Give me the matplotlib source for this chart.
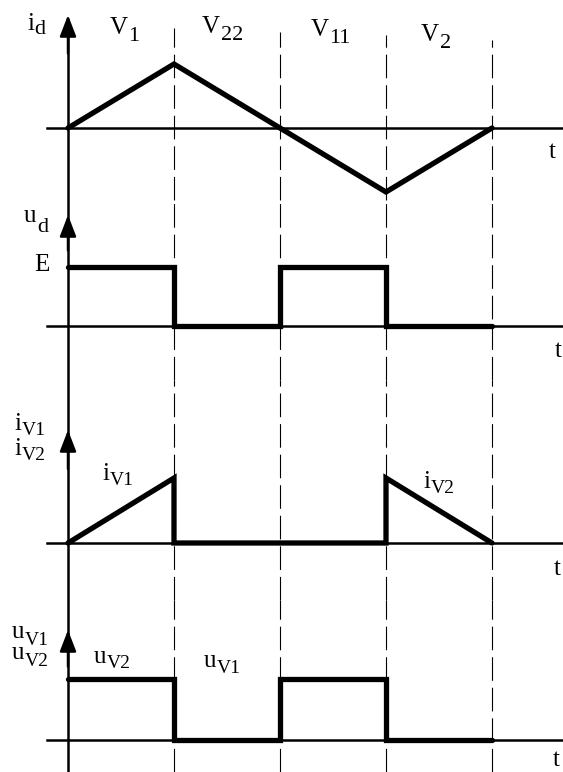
import matplotlib
matplotlib.use('Agg')
import matplotlib.pyplot as plt
from matplotlib.lines import Line2D

plt.rcParams['font.family'] = 'Liberation Serif'
plt.rcParams['lines.scale_dashes'] = False

# switching intervals (t in units of one interval)
t_edges = [0, 1, 2, 3, 4]
interval_names = [('V', '1'), ('V', '22'), ('V', '11'), ('V', '2')]

# i_d : triangular current
id_t = [0, 1, 2, 3, 4]
id_val = [0, 1, 0, -1, 0]

# u_d : E during V1 and V11, zero otherwise
ud_val = [1, 0, 1, 0]

# i_V1 / i_V2
iv_t = [0, 1, 1, 3, 3, 4]
iv_val = [0, 1, 0, 0, 1, 0]

# u_V1 / u_V2
uv_val = [1, 0, 1, 0]

W, H = 563, 772
fig = plt.figure(figsize=(W / 100, H / 100), dpi=100)
renderer = fig.canvas.get_renderer()

X0, XU = 68, 106          # pixel of t=0, pixels per interval
xlim = (-X0 / XU, (W - X0) / XU)
FS = 18
THICK = 3.8
AX_LW = 1.8
dash_tops = [28, 32, 35, 40]

# one continuous vertical axis through all four plots
fig.add_artist(Line2D([X0 / W, X0 / W], [0, 1 - 20 / H], color='k', lw=AX_LW))

def panel(top, bottom, zero, unit, tip, first=False):
    ax = fig.add_axes([0, 1 - bottom / H, 1, (bottom - top) / H])
    ax.set_xlim(*xlim)
    y0, y1 = -(bottom - zero) / unit, (zero - top) / unit
    ax.set_ylim(y0, y1)
    ax.axis('off')
    ytip = (zero - tip) / unit
    # time axis with arrow
    ax.plot([-21 / XU, xlim[1]], [0, 0], color='k', lw=AX_LW, clip_on=False)
    ax.annotate('', xy=(xlim[1] + 0.02, 0), xytext=(xlim[1] - 0.4, 0),
                arrowprops=dict(arrowstyle='-|>,head_length=0.6,head_width=0.2',
                                mutation_scale=20, lw=AX_LW, color='k',
                                shrinkA=0, shrinkB=0))
    ax.annotate('', xy=(0, ytip), xytext=(0, ytip - 0.6),
                arrowprops=dict(arrowstyle='-|>,head_length=0.65,head_width=0.25',
                                mutation_scale=20, lw=AX_LW, color='k',
                                shrinkA=0, shrinkB=0))
    # dashed interval boundaries
    for te, dt in zip(t_edges[1:], dash_tops):
        top_val = (zero - dt) / unit if first else y1
        ax.plot([te, te], [y0, top_val], color='k', lw=0.8,
                linestyle=(0, (17, 5)), clip_on=False)
    return ax

line_kw = dict(color='k', lw=THICK, solid_capstyle='round',
               solid_joinstyle='miter', clip_on=False, zorder=3)

ax1 = panel(0, 200, 128, 64, 15, first=True)
ax1.plot(id_t, id_val, **line_kw)

ax2 = panel(200, 380, 326, 59, 215)
ax2.step(t_edges, ud_val + ud_val[-1:], where='post', **line_kw)

ax3 = panel(380, 600, 543, 65, 430)
ax3.plot(iv_t, iv_val, **line_kw)

ax4 = panel(600, H, 740, 61, 630)
ax4.step(t_edges, uv_val + uv_val[-1:], where='post', **line_kw)

def label(x, y, main, sub=None, drop=6, sub_fs=16):
    # x: left edge, y: baseline (pixels from the top-left corner)
    txt = fig.text(x / W, 1 - y / H, main, ha='left', va='baseline', fontsize=FS)
    if sub:
        w = txt.get_window_extent(renderer).width
        fig.text((x + w + 0.5) / W, 1 - (y + drop) / H, sub,
                 ha='left', va='baseline', fontsize=sub_fs)

label(27, 30, 'i', 'd', drop=4)
for (m, s), xl, yb in zip(interval_names, [110, 202, 311, 421], [34, 33, 36, 41]):
    label(xl, yb, m, s, drop=7)
for xl, yb in [(549, 158), (555, 357), (554, 575), (553, 766)]:
    label(xl, yb, 't')

label(24, 222, 'u', 'd', drop=10)
label(34, 271, 'E')

label(14, 430, 'i', 'V1', drop=5, sub_fs=14)
label(14, 455, 'i', 'V2', drop=5, sub_fs=14)
label(102, 480, 'i', 'V1', drop=5, sub_fs=14)
label(423, 488, 'i', 'V2', drop=5, sub_fs=14)

label(12, 638, 'u', 'V1', drop=7, sub_fs=14)
label(12, 659, 'u', 'V2', drop=7, sub_fs=14)
label(94, 663, 'u', 'V2', drop=5, sub_fs=14)
label(204, 667, 'u', 'V1', drop=6, sub_fs=14)

fig.savefig('out.png', dpi=100)
